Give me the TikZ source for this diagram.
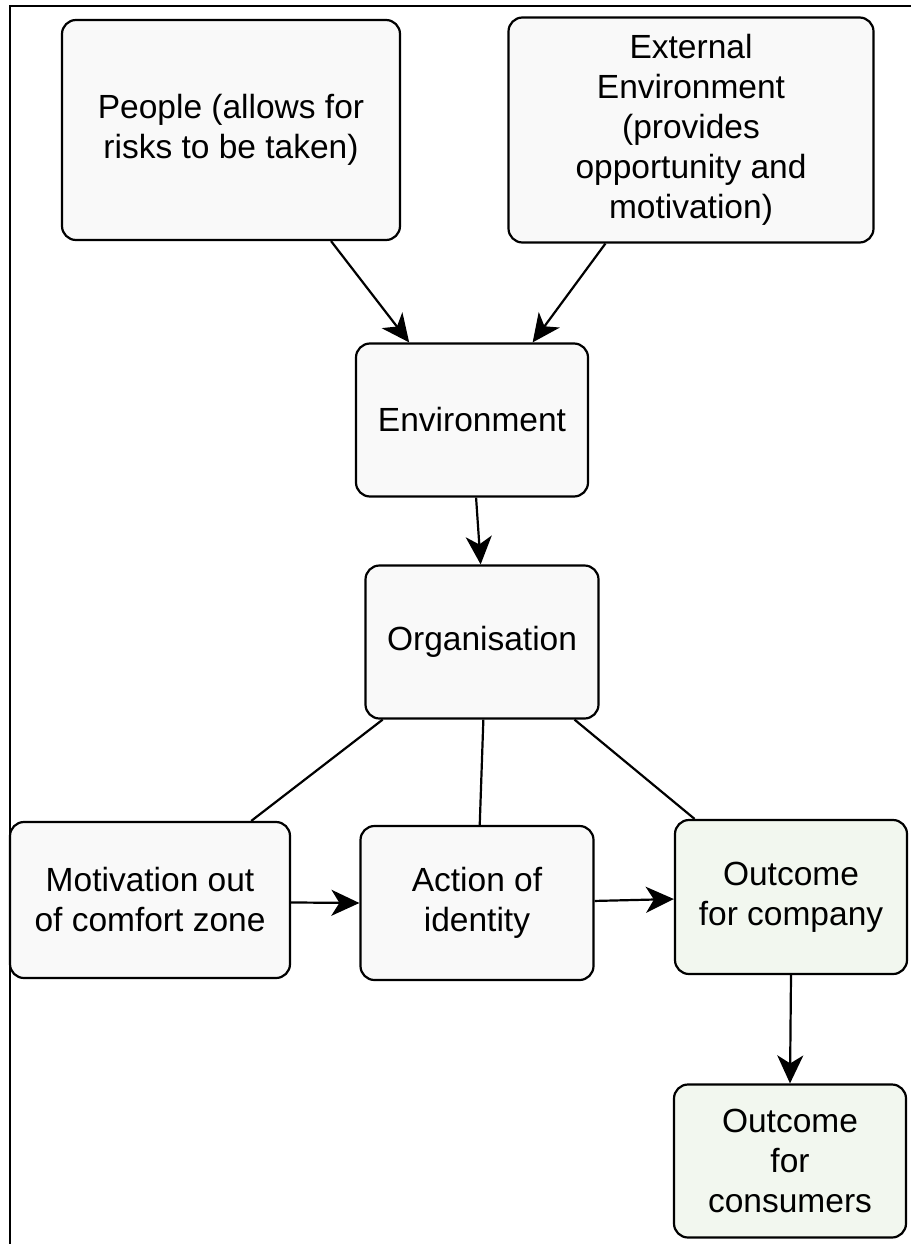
\documentclass[tikz,border=0pt]{standalone}
\usepackage{fontspec}
\setmainfont{Liberation Sans}
\usetikzlibrary{arrows.meta}
\definecolor{boxgrey}{HTML}{F9F9F9}
\definecolor{boxgreen}{HTML}{F2F7EF}
\begin{document}
\begin{tikzpicture}[x=1pt,y=-1pt,
  box/.style={draw=black, line width=2.2pt, rounded corners=14pt, fill=boxgrey,
    align=center, inner sep=0pt, font=\fontsize{33.5}{40}\selectfont},
  goal/.style={box, fill=boxgreen},
  link/.style={line width=2.2pt},
  flow/.style={link, -{Stealth[length=28pt,width=26pt,inset=8pt]}}]
\useasboundingbox (0,0) rectangle (910,1244);
% open frame on the left and top
\draw[line width=2pt] (10,1250) -- (10,6) -- (915,6);

\node[box, minimum width=338pt, minimum height=220pt] (people) at (231,130)
  {People (allows for\\risks to be taken)};
\node[box, minimum width=365pt, minimum height=225pt] (ext) at (691,130)
  {External\\Environment\\(provides\\opportunity and\\motivation)};
\node[box, minimum width=232pt, minimum height=153pt] (env) at (472,420) {Environment};
\node[box, minimum width=233pt, minimum height=153pt] (org) at (482,642) {Organisation};
\node[box, minimum width=280pt, minimum height=156pt] (mot) at (150,900)
  {Motivation out\\of comfort zone};
\node[box, minimum width=233pt, minimum height=154pt] (act) at (477,903)
  {Action of\\identity};
\node[goal, minimum width=232pt, minimum height=154pt] (outc) at (791,897)
  {Outcome\\for company};
\node[goal, minimum width=232pt, minimum height=153pt] (outs) at (790,1161)
  {Outcome\\for\\consumers};

\draw[flow] (people.-48) -- (env.129);
\draw[flow] (ext.-127) -- (env.52);
\draw[flow] (env.-87) -- (org.91);
\draw[link] (org.218) -- (mot.38);
\draw[link] (org.-89) -- (act.88);
\draw[link] (org.-40) -- (outc.141);
\draw[flow] (mot.-1.6) -- (act.180.5);
\draw[flow] (act.1) -- (outc.181);
\draw[flow] (outc.south) -- (outs.north);
\end{tikzpicture}
\end{document}
